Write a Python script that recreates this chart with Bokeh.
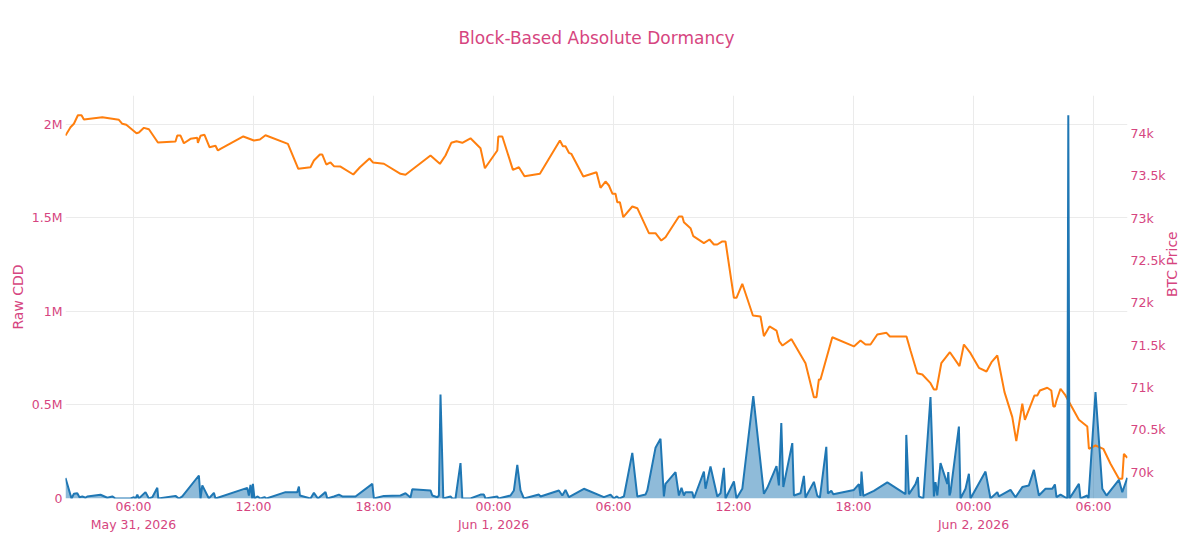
import math
import pandas as pd
from bokeh.plotting import figure
from bokeh.models import (Range1d, LinearAxis, DatetimeAxis, FixedTicker,
                          CustomJSTickFormatter, ColumnDataSource, Title)
from bokeh.embed import file_html
from bokeh.resources import INLINE

# ---------------- data ----------------
BASE = "2026-05-31 00:00"

# BTC price: hours after BASE, price in USD
price_hours = [2.6, 2.85, 3.02, 3.22, 3.4, 3.52, 4.44, 5.27, 5.44, 5.64,
               6.15, 6.27, 6.52, 6.77, 7.22, 8.1, 8.19, 8.35, 8.52, 8.85,
               9.19, 9.22, 9.35, 9.55, 9.8, 10.1, 10.22, 10.35, 11.49, 12.02,
               12.32, 12.6, 13.72, 14.24, 14.85, 15.02, 15.32, 15.44, 15.64, 15.85,
               16.02, 16.35, 16.99, 17.32, 17.8, 17.97, 18.52, 19.35, 19.6, 20.85,
               21.32, 21.6, 21.89, 22.15, 22.44, 22.85, 23.35, 23.57, 24.19, 24.24,
               24.44, 24.97, 25.27, 25.55, 26.32, 27.32, 27.47, 27.6, 27.77, 27.89,
               28.49, 29.15, 29.35, 29.6, 29.77, 29.95, 30.1, 30.19, 30.32, 30.49,
               30.94, 31.19, 31.77, 32.1, 32.39, 32.6, 33.27, 33.44, 33.52, 33.85,
               33.99, 34.52, 34.8, 35.02, 35.19, 35.44, 35.6, 36.02, 36.15, 36.44,
               36.97, 37.35, 37.52, 37.8, 38.15, 38.29, 38.45, 38.9, 39.6, 40.02,
               40.15, 40.27, 40.35, 40.94, 42.02, 42.35, 42.6, 42.85, 43.19, 43.65,
               43.82, 44.65, 44.85, 45.19, 45.44, 45.85, 46.02, 46.15, 46.39, 46.82,
               47.3, 47.52, 47.85, 48.27, 48.65, 48.9, 49.19, 49.55, 49.94, 50.14,
               50.44, 50.57, 51.05, 51.19, 51.32, 51.69, 51.89, 51.99, 52.07, 52.15,
               52.35, 52.6, 53.27, 53.69, 53.77, 54.1, 54.49, 54.85, 55.27, 55.44,
               55.52, 55.69]
price_vals = [73976, 74074, 74115, 74216, 74216, 74165, 74193, 74162, 74115, 74103,
              74004, 74012, 74067, 74051, 73894, 73906, 73976, 73976, 73885, 73937,
              73949, 73890, 73973, 73985, 73838, 73855, 73799, 73819, 73965, 73917,
              73929, 73980, 73878, 73583, 73602, 73681, 73752, 73752, 73634, 73658,
              73614, 73610, 73516, 73602, 73705, 73658, 73643, 73524, 73512, 73740,
              73642, 73740, 73890, 73909, 73890, 73944, 73826, 73590, 73799, 73965,
              73965, 73571, 73602, 73496, 73524, 73917, 73850, 73850, 73772, 73760,
              73492, 73543, 73359, 73433, 73386, 73288, 73288, 73189, 73189, 73012,
              73138, 73118, 72823, 72823, 72736, 72775, 73020, 73020, 72952, 72882,
              72787, 72705, 72748, 72689, 72689, 72725, 72725, 72060, 72060, 72225,
              71851, 71839, 71606, 71721, 71673, 71544, 71496, 71571, 71287, 70886,
              70886, 71095, 71095, 71594, 71485, 71555, 71508, 71508, 71626, 71646,
              71603, 71603, 71437, 71169, 71154, 71051, 70977, 70977, 71287, 71417,
              71252, 71508, 71405, 71233, 71189, 71299, 71378, 70945, 70650, 70366,
              70808, 70619, 70906, 70906, 70965, 70997, 70965, 70776, 70776, 70847,
              70985, 70906, 70619, 70540, 70276, 70315, 70276, 70099, 69922, 69922,
              70217, 70170]

# Raw CDD: hours after BASE, value in thousands
cdd_hours = [2.6, 2.9, 3.02, 3.19, 3.3, 3.44, 3.6, 3.69, 4.35, 4.69,
             4.94, 5.1, 5.85, 6.02, 6.1, 6.19, 6.27, 6.6, 6.77, 6.94,
             7.19, 7.24, 8.1, 8.27, 8.44, 9.27, 9.35, 9.44, 9.77, 10.02,
             10.1, 11.69, 11.77, 11.85, 11.94, 11.97, 12.05, 12.19, 12.35, 12.55,
             12.65, 13.6, 14.19, 14.27, 14.32, 14.85, 15.02, 15.22, 15.6, 15.69,
             16.02, 16.27, 16.44, 17.1, 17.94, 18.02, 18.52, 19.35, 19.6, 19.85,
             19.94, 20.85, 20.94, 21.19, 21.27, 21.35, 21.49, 21.85, 21.94, 22.1,
             22.35, 22.44, 22.85, 23.35, 23.52, 23.6, 24.19, 24.25, 24.85, 25.02,
             25.19, 25.35, 25.52, 26.27, 26.35, 27.27, 27.44, 27.6, 27.77, 28.52,
             29.52, 29.85, 30.02, 30.15, 30.3, 30.52, 30.94, 31.19, 31.6, 31.69,
             32.1, 32.35, 32.52, 32.6, 33.1, 33.27, 33.4, 33.52, 33.6, 33.94,
             34.02, 34.52, 34.6, 34.85, 35.19, 35.35, 35.52, 35.6, 36.02, 36.15,
             36.44, 36.99, 37.52, 37.69, 38.15, 38.27, 38.39, 38.49, 38.94, 39.02,
             39.35, 39.52, 39.6, 40.02, 40.19, 40.32, 40.64, 40.72, 40.89, 40.99,
             42.02, 42.27, 42.35, 42.4, 42.49, 43.02, 43.69, 44.6, 44.64, 44.77,
             45.1, 45.22, 45.27, 45.49, 45.85, 46.02, 46.1, 46.19, 46.35, 46.69,
             46.74, 46.8, 46.85, 47.27, 47.35, 47.6, 47.77, 47.85, 48.6, 48.85,
             49.19, 49.27, 49.85, 50.1, 50.44, 50.77, 51.02, 51.27, 51.6, 51.94,
             52.07, 52.15, 52.35, 52.69, 52.74, 52.8, 53.27, 53.35, 53.69, 53.75,
             54.1, 54.44, 54.65, 55.27, 55.44, 55.69]
cdd_thousands = [110, 0, 25, 28, 7, 11, 4, 11, 20, 4,
                 11, 0, 0, 7, 0, 20, 0, 34, 0, 7,
                 57, 0, 14, 0, 11, 123, 0, 70, 0, 30,
                 0, 57, 16, 73, 0, 78, 0, 11, 0, 7,
                 0, 34, 34, 64, 16, 0, 30, 0, 34, 0,
                 11, 21, 11, 11, 78, 0, 14, 16, 28, 5,
                 50, 43, 16, 7, 16, 556, 0, 11, 0, 0,
                 189, 0, 0, 21, 21, 0, 11, 0, 16, 43,
                 180, 43, 0, 21, 11, 43, 16, 46, 7, 52,
                 7, 21, 0, 11, 0, 11, 244, 11, 21, 43,
                 271, 319, 11, 78, 141, 16, 57, 16, 34, 34,
                 0, 144, 52, 171, 11, 28, 164, 0, 91, 0,
                 52, 547, 25, 57, 173, 70, 403, 61, 296, 16,
                 28, 121, 5, 89, 14, 5, 276, 27, 41, 23,
                 46, 77, 14, 144, 14, 41, 86, 23, 340, 23,
                 77, 115, 11, 0, 542, 11, 87, 16, 189, 78,
                 141, 16, 34, 385, 0, 52, 132, 0, 144, 0,
                 34, 11, 46, 7, 61, 70, 153, 16, 52, 52,
                 75, 7, 21, 0, 2049, 0, 78, 0, 16, 0,
                 569, 52, 16, 100, 34, 111]

x_tick_times = ["2026-05-31 06:00", "2026-05-31 12:00", "2026-05-31 18:00",
                "2026-06-01 00:00", "2026-06-01 06:00", "2026-06-01 12:00",
                "2026-06-01 18:00", "2026-06-02 00:00", "2026-06-02 06:00"]
x_date_ticks = ["2026-05-31 06:00", "2026-06-01 00:00", "2026-06-02 00:00"]
cdd_ticks = [0, 500000, 1000000, 1500000, 2000000]
price_ticks = [70000, 70500, 71000, 71500, 72000, 72500, 73000, 73500, 74000]

TITLE = "Block-Based Absolute Dormancy"

# ---------------- styling ----------------
PINK = "#d64580"
BLUE = "#1f77b4"
ORANGE = "#ff7f0e"
GRID = "#ebebeb"
FONT = "DejaVu Sans"

base = pd.Timestamp(BASE)
price_t = (base + pd.to_timedelta(price_hours, unit="h")).values
cdd_t = (base + pd.to_timedelta(cdd_hours, unit="h")).values
cdd_vals = [v * 1000 for v in cdd_thousands]

src_p = ColumnDataSource(dict(t=price_t, v=price_vals))
src_c = ColumnDataSource(dict(t=cdd_t, v=cdd_vals, z=[0] * len(cdd_vals)))

p = figure(width=1200, height=541, x_axis_type="datetime",
           output_backend="svg", toolbar_location=None,
           x_range=Range1d(start=base + pd.Timedelta(hours=2.6),
                           end=base + pd.Timedelta(hours=55.7)),
           y_range=Range1d(0, 2155000),
           min_border_left=65, min_border_right=73,
           min_border_top=95, min_border_bottom=43)
p.extra_y_ranges = {"price": Range1d(69689, 74449)}
p.outline_line_color = None
p.background_fill_color = "white"
p.border_fill_color = "white"

# title
p.title.text = TITLE
p.title.align = "center"
p.title.text_color = PINK
p.title.text_font = FONT
p.title.text_font_size = "17px"
p.title.text_font_style = "normal"
# blank spacer title to lift the main title away from the frame
p.add_layout(Title(text=" ", text_font_size="27px", text_font=FONT), "above")

# area + lines
p.varea(x="t", y1="z", y2="v", source=src_c, fill_color=BLUE, fill_alpha=0.5)
p.line(x="t", y="v", source=src_p, y_range_name="price", line_color=ORANGE, line_width=2)
p.line(x="t", y="v", source=src_c, line_color=BLUE, line_width=2)

# x axis (times)
xa = p.xaxis[0]
xa.ticker = FixedTicker(ticks=[pd.Timestamp(s).value / 1e6 for s in x_tick_times])
xa.formatter = CustomJSTickFormatter(code="""
const d = new Date(tick);
const pad = (n) => String(n).padStart(2, "0");
return pad(d.getUTCHours()) + ":" + pad(d.getUTCMinutes());
""")

# second x axis (dates)
xd = DatetimeAxis(ticker=FixedTicker(ticks=[pd.Timestamp(s).value / 1e6 for s in x_date_ticks]),
                  formatter=CustomJSTickFormatter(code="""
const d = new Date(tick);
const months = ["Jan","Feb","Mar","Apr","May","Jun","Jul","Aug","Sep","Oct","Nov","Dec"];
return months[d.getUTCMonth()] + " " + d.getUTCDate() + ", " + d.getUTCFullYear();
"""))
p.add_layout(xd, "below")

# left axis
ya = p.yaxis[0]
ya.ticker = FixedTicker(ticks=cdd_ticks)
ya.formatter = CustomJSTickFormatter(code="return tick == 0 ? '0' : (tick / 1e6) + 'M';")
ya.axis_label = "Raw CDD"

# right axis
ra = LinearAxis(y_range_name="price", ticker=FixedTicker(ticks=price_ticks),
                formatter=CustomJSTickFormatter(code="return (tick / 1000) + 'k';"),
                axis_label="BTC Price")
ra.axis_label_orientation = math.pi / 2
p.add_layout(ra, "right")

for ax in (xa, xd, ya, ra):
    ax.axis_line_color = None
    ax.major_tick_line_color = None
    ax.minor_tick_line_color = None
    ax.major_tick_out = 0
    ax.major_tick_in = 0
    ax.minor_tick_out = 0
    ax.minor_tick_in = 0
    ax.major_label_text_color = PINK
    ax.major_label_text_font = FONT
    ax.major_label_text_font_size = "12.5px"
    ax.major_label_standoff = 3
    ax.axis_label_text_color = PINK
    ax.axis_label_text_font = FONT
    ax.axis_label_text_font_size = "14px"
    ax.axis_label_text_font_style = "normal"
    ax.axis_label_standoff = 3
xa.major_label_standoff = 0
xd.major_label_standoff = 0

p.xgrid.grid_line_color = GRID
p.ygrid.grid_line_color = GRID
p.xgrid.grid_line_width = 1
p.ygrid.grid_line_width = 1

open("out.html", "w").write(file_html(p, INLINE))
